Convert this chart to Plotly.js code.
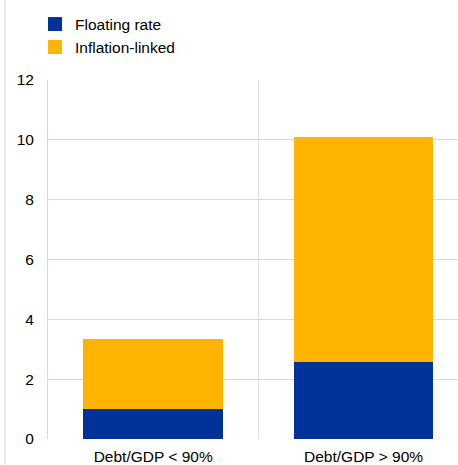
<!DOCTYPE html>
<html>
<head>
<meta charset="utf-8">
<script src="https://cdn.plot.ly/plotly-3.0.1.min.js"></script>
<style>
html,body{margin:0;padding:0;background:#fff;}
#chart{width:458px;height:465px;}
</style>
</head>
<body>
<div id="chart"></div>
<script>
var categories = ["Debt/GDP < 90%", "Debt/GDP > 90%"];
var floatingRate = [1.01, 2.56];
var inflationLinked = [2.32, 7.52];
var seriesNames = ["Floating rate", "Inflation-linked"];
var seriesColors = ["#003299", "#FFB400"];
var yTicks = [0, 2, 4, 6, 8, 10, 12];

var xIdx = categories.map(function(c, i){ return i; });

var traces = [
  {type:"bar", name:seriesNames[0], x:xIdx, y:floatingRate, width:0.664,
   marker:{color:seriesColors[0]}, hoverinfo:"y"},
  {type:"bar", name:seriesNames[1], x:xIdx, y:inflationLinked, width:0.664,
   marker:{color:seriesColors[1]}, hoverinfo:"y"}
];

var plotTop = 80, plotBottom = 439.3, plotLeft = 48, plotRight = 458;
var pH = plotBottom - plotTop, pW = plotRight - plotLeft;
function px(x){ return (x - plotLeft) / pW; }
function py(y){ return (plotBottom - y) / pH; }

var FS = 15.5;

var shapes = [
  {type:"line", xref:"x", yref:"paper", x0:0.5, x1:0.5, y0:0, y1:1,
   line:{color:"#d9d9d9", width:1}},
  {type:"line", xref:"paper", yref:"paper", x0:px(5), x1:px(5),
   y0:py(0), y1:py(465), line:{color:"#d9d9d9", width:1}}
];
var annotations = [];
var legendTops = [17, 40];
seriesNames.forEach(function(name, i){
  var t = legendTops[i];
  shapes.push({type:"rect", xref:"paper", yref:"paper", x0:px(48), x1:px(62),
    y0:py(t), y1:py(t+14), fillcolor:seriesColors[i], line:{width:0}});
  annotations.push({xref:"paper", yref:"paper", x:px(73), y:py(t+7),
    xanchor:"left", yanchor:"middle", showarrow:false, text:name,
    font:{size:FS, color:"#000"}});
});

var layout = {
  width:458, height:465,
  margin:{l:plotLeft, r:458-plotRight, t:plotTop, b:465-plotBottom, pad:0},
  paper_bgcolor:"#fff", plot_bgcolor:"#fff",
  font:{family:"Arial, 'Liberation Sans', sans-serif", size:FS, color:"#000"},
  barmode:"stack",
  showlegend:false,
  xaxis:{range:[-0.5, 1.449], tickvals:xIdx, ticktext:categories, showgrid:false,
         zeroline:false, showline:false, ticks:"", fixedrange:true, ticklabelstandoff:6,
         tickfont:{size:FS, color:"#000"}},
  yaxis:{range:[0,12], tickvals:yTicks, ticktext:yTicks.map(String), showgrid:true,
         gridcolor:"#d9d9d9", gridwidth:1, zeroline:false, showline:true, linecolor:"#d9d9d9",
         linewidth:1, ticks:"", ticklabelstandoff:10, fixedrange:true,
         tickfont:{size:FS, color:"#000"}},
  shapes:shapes,
  annotations:annotations
};

Plotly.newPlot("chart", traces, layout, {displayModeBar:false, staticPlot:true});
</script>
</body>
</html>
